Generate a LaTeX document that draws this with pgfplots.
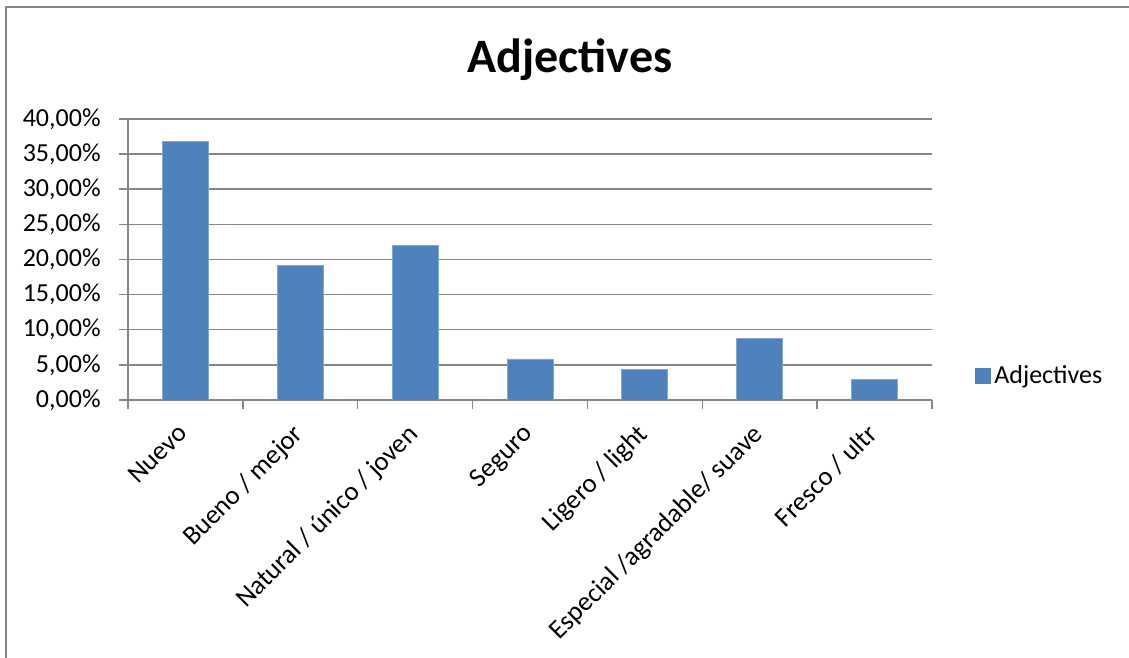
\documentclass[border=0pt]{standalone}
\usepackage{pgfplots}
\pgfplotsset{compat=1.18}
\usepackage{fontspec}
\setmainfont{Carlito}
\definecolor{barblue}{HTML}{4F81BD}
\definecolor{gridgray}{HTML}{868686}
\begin{document}
\begin{tikzpicture}[x=1pt,y=1pt]
\path[use as bounding box] (0,0) rectangle (564.5,329);
\draw[gridgray, line width=1pt] (3,0) -- (3,325.5) -- (564.5,325.5);
\node[font=\fontsize{24}{28}\selectfont\bfseries] at (285,299) {Adjectives};
\begin{axis}[
  at={(64pt,129pt)}, anchor=south west,
  scale only axis, width=402pt, height=140.5pt,
  xmin=-0.5, xmax=6.5, ymin=0, ymax=40,
  ybar, bar width=23pt, bar shift=0pt,
  axis lines*=left,
  axis line style={gridgray, line width=0.75pt},
  tick style={gridgray, line width=0.75pt},
  tick align=outside, major tick length=4.5pt,
  ymajorgrids, grid style={gridgray, line width=0.75pt},
  ytick={0,5,...,40},
  yticklabels={{0,00\%},{5,00\%},{10,00\%},{15,00\%},{20,00\%},{25,00\%},{30,00\%},{35,00\%},{40,00\%}},
  yticklabel style={anchor=east, inner sep=0pt, xshift=-9pt, font=\fontsize{13}{15}\selectfont},
  xtick={-0.5,0.5,...,6.5},
  xticklabels={,,,,,,,,},
  extra x ticks={0,1,2,3,4,5,6},
  extra x tick labels={Nuevo,Bueno / mejor,Natural / único / joven,Seguro,Ligero / light,Especial /agradable/ suave,Fresco / ultr},
  extra x tick style={major tick length=0pt, xticklabel style={xshift=-4.5pt, yshift=-11pt, rotate=45, anchor=north east, inner sep=0pt, font=\fontsize{13.4}{16}\selectfont}},
  legend style={at={(1.045,0.086)}, anchor=west, draw=none, fill=none, font=\fontsize{13}{15}\selectfont},
  legend image code/.code={\fill[barblue] (0pt,-3.75pt) rectangle (7.5pt,3.75pt);},
]
\addplot[fill=barblue, draw=barblue!70!white, line width=0.4pt] coordinates {
  (0,36.8) (1,19.1) (2,22.0) (3,5.84) (4,4.3) (5,8.75) (6,2.87)
};
\addlegendentry{Adjectives}
\end{axis}
\end{tikzpicture}
\end{document}
